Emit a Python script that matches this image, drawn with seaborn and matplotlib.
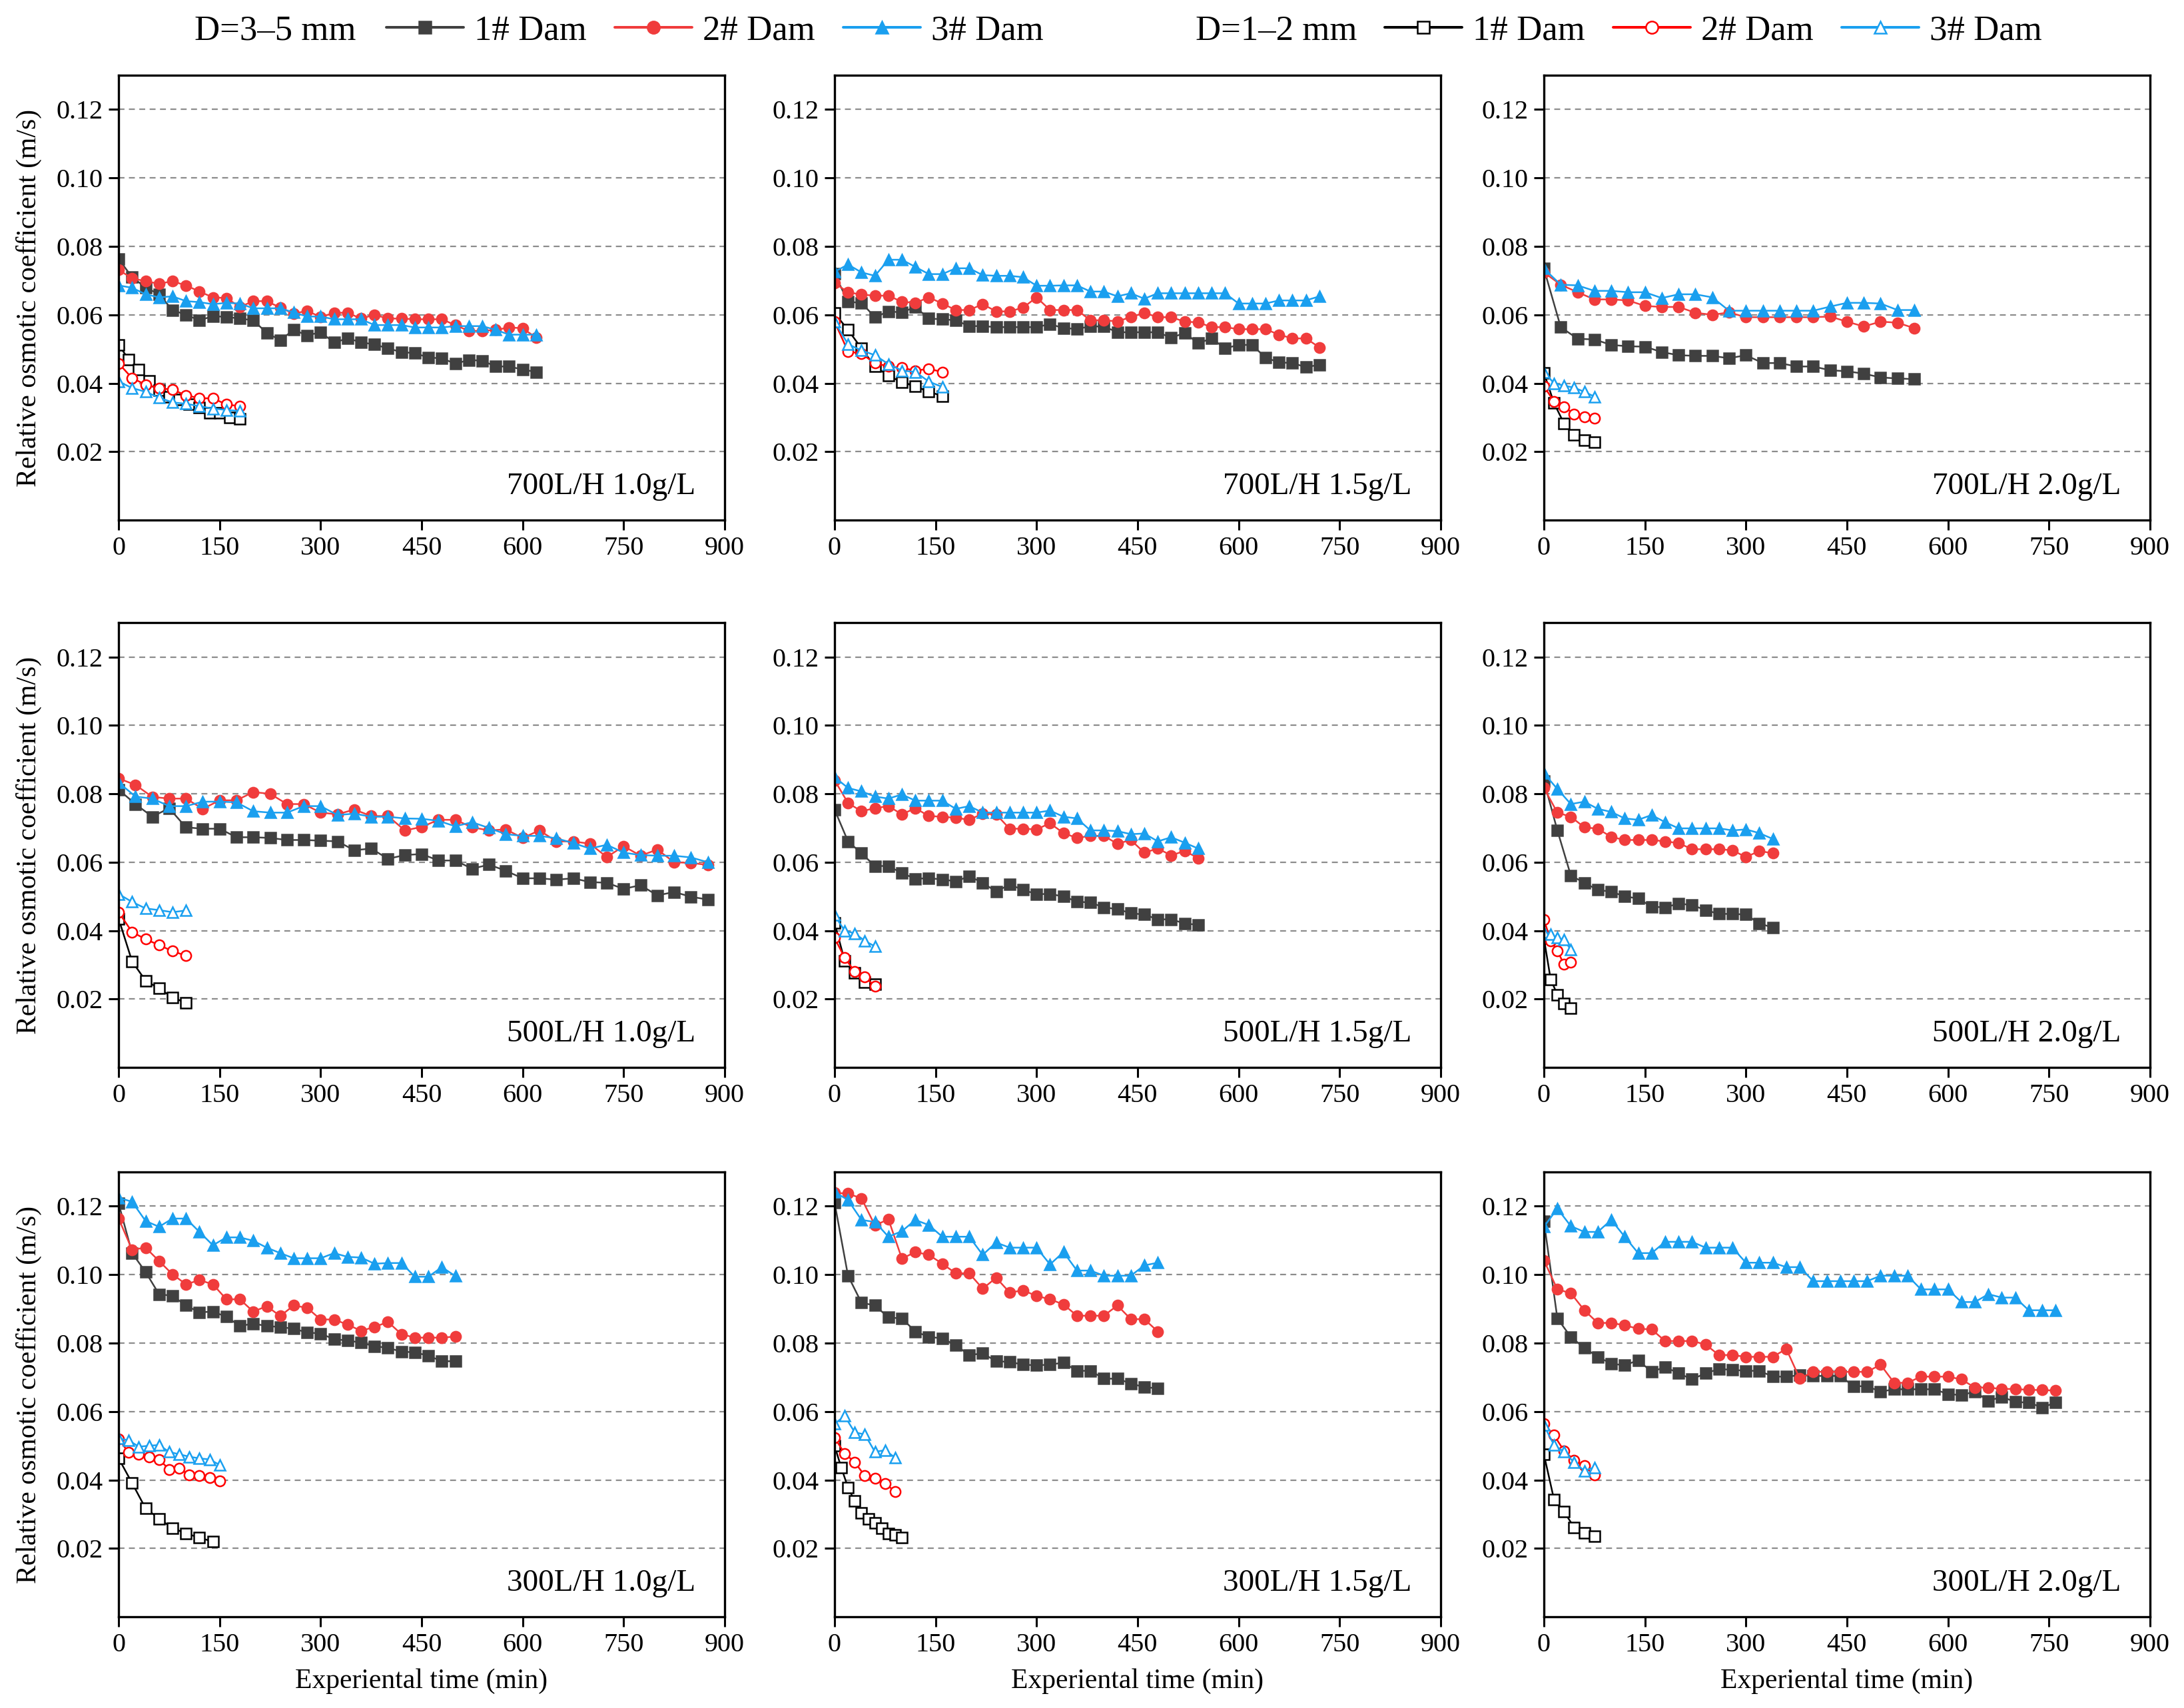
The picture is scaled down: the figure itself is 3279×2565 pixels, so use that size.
import matplotlib
matplotlib.use("Agg")
import matplotlib.pyplot as plt
from matplotlib.lines import Line2D
from matplotlib.ticker import FormatStrFormatter
import seaborn as sns

# ---- data ----
# 700L/H 1.0g/L
tA = list(range(0, 621, 20))
A1 = [0.0763, 0.071, 0.068, 0.066, 0.0614, 0.060, 0.0584, 0.0596, 0.0594, 0.0589,
      0.0584, 0.0547, 0.0526, 0.0556, 0.054, 0.0549, 0.0519, 0.0531, 0.052, 0.0513,
      0.0502, 0.0491, 0.0488, 0.0475, 0.0473, 0.0457, 0.0468, 0.0466, 0.0449, 0.0449,
      0.044, 0.0433]
A2 = [0.0731, 0.0707, 0.0698, 0.0691, 0.0698, 0.0686, 0.0668, 0.0651, 0.0649, 0.0623,
      0.064, 0.064, 0.0621, 0.0603, 0.0612, 0.0593, 0.0606, 0.0606, 0.0589, 0.06,
      0.0589, 0.0589, 0.0587, 0.0587, 0.0587, 0.057, 0.0553, 0.0553, 0.0556, 0.0563,
      0.0561, 0.0533]
A3 = [0.0686, 0.0679, 0.066, 0.0651, 0.0654, 0.064, 0.0637, 0.0631, 0.0635, 0.0633,
      0.0619, 0.0619, 0.0619, 0.0607, 0.0595, 0.0595, 0.0587, 0.0587, 0.0587, 0.057,
      0.057, 0.057, 0.0563, 0.0563, 0.0563, 0.0567, 0.0567, 0.0567, 0.0556, 0.0542,
      0.0542, 0.0542]
tA_s1 = list(range(0, 181, 15))
A1s = [0.0512, 0.047, 0.044, 0.0407, 0.038, 0.0361, 0.0352, 0.0338, 0.0329, 0.0314, 0.0314, 0.030, 0.0296]
tA_s = list(range(0, 181, 20))
A2s = [0.0458, 0.0415, 0.0396, 0.0386, 0.0381, 0.0365, 0.0356, 0.0356, 0.0338, 0.0333]
A3s = [0.0405, 0.0386, 0.0375, 0.0358, 0.0344, 0.034, 0.0333, 0.0326, 0.0322, 0.0319]

# 700L/H 1.5g/L
tB = list(range(0, 721, 20))
B1 = [0.072, 0.0638, 0.0635, 0.0593, 0.061, 0.0607, 0.0623, 0.0589, 0.0587, 0.0584,
      0.0567, 0.0567, 0.0564, 0.0564, 0.0564, 0.0564, 0.0573, 0.0561, 0.0559, 0.0566,
      0.0566, 0.0549, 0.0549, 0.0549, 0.0549, 0.0533, 0.0547, 0.0517, 0.0531, 0.0502,
      0.0512, 0.0512, 0.0475, 0.0461, 0.0459, 0.0447, 0.0454]
B2 = [0.0693, 0.0666, 0.0659, 0.0656, 0.0656, 0.0638, 0.0635, 0.0651, 0.0633, 0.0614,
      0.0614, 0.0631, 0.061, 0.061, 0.0621, 0.0651, 0.0614, 0.0614, 0.0614, 0.0584,
      0.0584, 0.0581, 0.0593, 0.0606, 0.0593, 0.0593, 0.058, 0.0578, 0.0564, 0.0564,
      0.0558, 0.0558, 0.0558, 0.0542, 0.0531, 0.0531, 0.0505]
B3 = [0.0726, 0.0747, 0.0724, 0.0714, 0.0761, 0.0761, 0.074, 0.0719, 0.0719, 0.0736,
      0.0736, 0.0716, 0.0714, 0.0714, 0.071, 0.0685, 0.0685, 0.0686, 0.0686, 0.0668,
      0.0668, 0.0654, 0.0663, 0.0647, 0.0663, 0.0663, 0.0663, 0.0663, 0.0663, 0.0663,
      0.0633, 0.0633, 0.0633, 0.0642, 0.0642, 0.0642, 0.0654]
tB_s = list(range(0, 161, 20))
B1s = [0.0605, 0.0556, 0.0502, 0.0449, 0.0422, 0.0403, 0.0391, 0.0375, 0.0363]
B2s = [0.058, 0.0493, 0.0486, 0.0459, 0.0449, 0.0445, 0.0437, 0.0442, 0.0433]
B3s = [0.058, 0.0514, 0.0496, 0.0482, 0.0456, 0.0437, 0.0433, 0.0405, 0.0389]

# 700L/H 2.0g/L
tC = list(range(0, 551, 25))
C1 = [0.0735, 0.0564, 0.053, 0.0528, 0.0512, 0.0508, 0.0507, 0.0491, 0.0482, 0.048,
      0.048, 0.0473, 0.0482, 0.0459, 0.0459, 0.0449, 0.0449, 0.0438, 0.0435, 0.0428,
      0.0417, 0.0414, 0.0412]
C2 = [0.0724, 0.0688, 0.0666, 0.0645, 0.0645, 0.0642, 0.0626, 0.0623, 0.0623, 0.0606,
      0.06, 0.0607, 0.0593, 0.0593, 0.0593, 0.0593, 0.0593, 0.0595, 0.058, 0.0566,
      0.058, 0.0577, 0.0561]
C3 = [0.0735, 0.0688, 0.0686, 0.067, 0.067, 0.0666, 0.0666, 0.0649, 0.066, 0.066,
      0.0651, 0.0612, 0.0612, 0.0612, 0.0612, 0.0612, 0.0612, 0.0624, 0.0635, 0.0635,
      0.0633, 0.0614, 0.0614]
tC_s = list(range(0, 76, 15))
C1s = [0.0431, 0.0342, 0.0282, 0.0249, 0.0233, 0.0228]
C2s = [0.0391, 0.0347, 0.0331, 0.031, 0.0302, 0.0298]
C3s = [0.0433, 0.04, 0.0393, 0.0387, 0.0375, 0.0361]

# 500L/H 1.0g/L
tD = list(range(0, 876, 25))
D1 = [0.0812, 0.077, 0.0733, 0.0758, 0.0702, 0.0698, 0.0698, 0.0673, 0.0673, 0.0671,
      0.0665, 0.0665, 0.0663, 0.0661, 0.0635, 0.064, 0.061, 0.0621, 0.0624, 0.0605,
      0.0605, 0.0581, 0.0593, 0.0575, 0.0553, 0.0553, 0.0549, 0.0553, 0.0542, 0.054,
      0.0522, 0.0533, 0.0503, 0.0513, 0.0499, 0.0491]
D2 = [0.0845, 0.0826, 0.0791, 0.0786, 0.0786, 0.0756, 0.0781, 0.0781, 0.0805, 0.08,
      0.077, 0.077, 0.0745, 0.074, 0.0754, 0.0735, 0.0735, 0.0693, 0.0703, 0.0724,
      0.0724, 0.0702, 0.0693, 0.0696, 0.0671, 0.0693, 0.0661, 0.0661, 0.0654, 0.0615,
      0.0647, 0.0619, 0.0637, 0.06, 0.0598, 0.0592]
D3 = [0.0833, 0.0792, 0.0786, 0.0764, 0.0764, 0.0777, 0.0777, 0.0775, 0.0749, 0.0745,
      0.0745, 0.0764, 0.0764, 0.0738, 0.0742, 0.0733, 0.0733, 0.0728, 0.0727, 0.0721,
      0.0705, 0.0717, 0.07, 0.0682, 0.0677, 0.0677, 0.067, 0.0656, 0.064, 0.0651,
      0.0628, 0.0621, 0.0619, 0.0619, 0.0614, 0.06]
tD_s = list(range(0, 101, 20))
D1s = [0.0435, 0.031, 0.0254, 0.0231, 0.0205, 0.0189]
D2s = [0.0454, 0.0396, 0.0375, 0.0358, 0.034, 0.0327]
D3s = [0.0507, 0.0484, 0.0465, 0.046, 0.0454, 0.0459]

# 500L/H 1.5g/L
tE = list(range(0, 541, 20))
E1 = [0.0754, 0.0661, 0.0626, 0.0589, 0.0589, 0.0568, 0.0552, 0.0553, 0.055, 0.0544,
      0.0559, 0.054, 0.0514, 0.0535, 0.0519, 0.0507, 0.0507, 0.05, 0.0485, 0.0482,
      0.0468, 0.0463, 0.0451, 0.0447, 0.0433, 0.0433, 0.0421, 0.0417]
E2 = [0.084, 0.0773, 0.0749, 0.0758, 0.0764, 0.074, 0.0758, 0.0735, 0.0733, 0.073,
      0.0724, 0.0742, 0.074, 0.0698, 0.0698, 0.0696, 0.0714, 0.0685, 0.0671, 0.0677,
      0.0677, 0.0654, 0.0665, 0.0628, 0.064, 0.062, 0.0633, 0.0612]
E3 = [0.0849, 0.0817, 0.0807, 0.0792, 0.0786, 0.0798, 0.078, 0.078, 0.078, 0.0756,
      0.0764, 0.0745, 0.0745, 0.0745, 0.0745, 0.0745, 0.0751, 0.0733, 0.0728, 0.0693,
      0.0693, 0.0691, 0.0682, 0.0684, 0.0661, 0.0673, 0.0657, 0.064]
tE_s = list(range(0, 61, 15))
E1s = [0.0423, 0.0312, 0.0277, 0.0249, 0.0243]
E2s = [0.0379, 0.0321, 0.028, 0.0265, 0.0237]
E3s = [0.0445, 0.04, 0.0392, 0.037, 0.0354]

# 500L/H 2.0g/L
tF = list(range(0, 341, 20))
F1 = [0.0838, 0.0693, 0.0561, 0.054, 0.0519, 0.0514, 0.05, 0.0494, 0.047, 0.0468,
      0.0479, 0.0475, 0.046, 0.0449, 0.0449, 0.0447, 0.0421, 0.0409]
F2 = [0.0817, 0.0745, 0.0733, 0.0702, 0.0698, 0.0674, 0.0665, 0.0665, 0.0665, 0.0661,
      0.0656, 0.0638, 0.0638, 0.0638, 0.0635, 0.0615, 0.0633, 0.0626]
F3 = [0.086, 0.0814, 0.077, 0.0777, 0.0756, 0.0747, 0.0728, 0.0724, 0.0738, 0.0717,
      0.0699, 0.0699, 0.0699, 0.0699, 0.0693, 0.0696, 0.0685, 0.0668]
tF_s = list(range(0, 41, 10))
F1s = [0.0378, 0.0258, 0.0213, 0.0188, 0.0174]
F2s = [0.0433, 0.0371, 0.0341, 0.0301, 0.0308]
F3s = [0.0396, 0.0389, 0.0379, 0.0373, 0.0344]

# 300L/H 1.0g/L
tG = list(range(0, 501, 20))
G1 = [0.1208, 0.1063, 0.1008, 0.0943, 0.0938, 0.091, 0.089, 0.0892, 0.0877, 0.085,
      0.0857, 0.085, 0.0847, 0.0842, 0.0831, 0.0828, 0.0811, 0.0808, 0.0801, 0.0791,
      0.0786, 0.0775, 0.0773, 0.0763, 0.0747, 0.0747]
G2 = [0.1164, 0.1073, 0.1079, 0.104, 0.1001, 0.0972, 0.0984, 0.0972, 0.0928, 0.0928,
      0.0892, 0.0908, 0.0879, 0.091, 0.0903, 0.0869, 0.0869, 0.0854, 0.0836, 0.0847,
      0.0862, 0.0826, 0.0816, 0.0816, 0.0816, 0.0819]
G3 = [0.1225, 0.1213, 0.1157, 0.114, 0.1164, 0.1164, 0.1125, 0.1086, 0.1109, 0.1109,
      0.1099, 0.1079, 0.1063, 0.1048, 0.1048, 0.1048, 0.1063, 0.1052, 0.105, 0.1032,
      0.1034, 0.1034, 0.0994, 0.0994, 0.1022, 0.0996]
tG_s1 = list(range(0, 141, 20))
G1s = [0.0463, 0.0391, 0.0317, 0.0287, 0.0259, 0.0244, 0.0231, 0.022]
tG_s = list(range(0, 151, 15))
G2s = [0.0519, 0.048, 0.0475, 0.0468, 0.046, 0.0431, 0.0434, 0.0414, 0.0412, 0.0407, 0.0397]
G3s = [0.0521, 0.0516, 0.0497, 0.05, 0.0502, 0.0482, 0.0475, 0.0468, 0.0463, 0.046, 0.0444]

# 300L/H 1.5g/L
tH = list(range(0, 481, 20))
H1 = [0.1211, 0.0997, 0.0918, 0.091, 0.0875, 0.0872, 0.0834, 0.0818, 0.0814, 0.0794,
      0.0765, 0.077, 0.0747, 0.0745, 0.0737, 0.0735, 0.0737, 0.0743, 0.0719, 0.0719,
      0.0696, 0.0696, 0.0682, 0.0671, 0.0668]
H2 = [0.1239, 0.1237, 0.1223, 0.1144, 0.1162, 0.1047, 0.1066, 0.1058, 0.1032, 0.1004,
      0.1004, 0.0959, 0.0991, 0.0948, 0.0954, 0.0938, 0.0928, 0.0913, 0.088, 0.088,
      0.088, 0.091, 0.087, 0.087, 0.0834]
H3 = [0.1242, 0.1218, 0.116, 0.1154, 0.1111, 0.1127, 0.116, 0.1145, 0.1111, 0.1111,
      0.1111, 0.1058, 0.1094, 0.1079, 0.1079, 0.1079, 0.103, 0.1066, 0.1012, 0.1012,
      0.0997, 0.0997, 0.0997, 0.1027, 0.1035]
tH_s1 = list(range(0, 101, 10))
H1s = [0.05, 0.0436, 0.0378, 0.0338, 0.0304, 0.0287, 0.0274, 0.0259, 0.0244, 0.0239, 0.0231]
tH_s = list(range(0, 91, 15))
H2s = [0.0524, 0.0477, 0.0452, 0.0412, 0.0404, 0.039, 0.0366]
H3s = [0.0564, 0.0587, 0.0539, 0.0533, 0.0482, 0.0487, 0.0465]

# 300L/H 2.0g/L
tI = list(range(0, 761, 20))
I1 = [0.1157, 0.0872, 0.0818, 0.0786, 0.076, 0.074, 0.0735, 0.075, 0.0716, 0.073,
      0.0712, 0.0694, 0.0712, 0.0724, 0.0722, 0.0719, 0.0719, 0.0702, 0.0702, 0.0706,
      0.0704, 0.0704, 0.0704, 0.0674, 0.0674, 0.0658, 0.0665, 0.0665, 0.0665, 0.0665,
      0.0651, 0.0648, 0.0658, 0.0631, 0.0643, 0.0628, 0.0626, 0.0612, 0.0626]
I2 = [0.1042, 0.0957, 0.0946, 0.0896, 0.0859, 0.0859, 0.0852, 0.0842, 0.084, 0.0806,
      0.0806, 0.0806, 0.0796, 0.0765, 0.0765, 0.076, 0.076, 0.076, 0.0783, 0.0696,
      0.0716, 0.0716, 0.0716, 0.0716, 0.0716, 0.0737, 0.0684, 0.0684, 0.0702, 0.0702,
      0.0702, 0.0694, 0.067, 0.067, 0.0666, 0.0666, 0.0663, 0.0663, 0.0661]
I3 = [0.114, 0.1193, 0.1142, 0.1125, 0.1125, 0.116, 0.1111, 0.1063, 0.1063, 0.1096,
      0.1096, 0.1096, 0.1079, 0.1079, 0.1079, 0.1035, 0.1035, 0.1035, 0.1022, 0.1022,
      0.0981, 0.0981, 0.0981, 0.0981, 0.0981, 0.0997, 0.0997, 0.0997, 0.0957, 0.0957,
      0.0957, 0.092, 0.092, 0.0943, 0.0933, 0.0933, 0.0896, 0.0896, 0.0896]
tI_s = list(range(0, 76, 15))
I1s = [0.0475, 0.0343, 0.0307, 0.0261, 0.0246, 0.0236]
I2s = [0.0564, 0.0531, 0.0485, 0.0458, 0.0441, 0.0414]
I3s = [0.056, 0.0502, 0.0482, 0.0451, 0.0427, 0.0437]

panel_titles = ["700L/H 1.0g/L", "700L/H 1.5g/L", "700L/H 2.0g/L",
                "500L/H 1.0g/L", "500L/H 1.5g/L", "500L/H 2.0g/L",
                "300L/H 1.0g/L", "300L/H 1.5g/L", "300L/H 2.0g/L"]
dam_labels = ["1# Dam", "2# Dam", "3# Dam"]

# series per panel: (time, values) for big 1#,2#,3# then small 1#,2#,3#
panels = [
    [(tA, A1), (tA, A2), (tA, A3), (tA_s1, A1s), (tA_s, A2s), (tA_s, A3s)],
    [(tB, B1), (tB, B2), (tB, B3), (tB_s, B1s), (tB_s, B2s), (tB_s, B3s)],
    [(tC, C1), (tC, C2), (tC, C3), (tC_s, C1s), (tC_s, C2s), (tC_s, C3s)],
    [(tD, D1), (tD, D2), (tD, D3), (tD_s, D1s), (tD_s, D2s), (tD_s, D3s)],
    [(tE, E1), (tE, E2), (tE, E3), (tE_s, E1s), (tE_s, E2s), (tE_s, E3s)],
    [(tF, F1), (tF, F2), (tF, F3), (tF_s, F1s), (tF_s, F2s), (tF_s, F3s)],
    [(tG, G1), (tG, G2), (tG, G3), (tG_s1, G1s), (tG_s, G2s), (tG_s, G3s)],
    [(tH, H1), (tH, H2), (tH, H3), (tH_s1, H1s), (tH_s, H2s), (tH_s, H3s)],
    [(tI, I1), (tI, I2), (tI, I3), (tI_s, I1s), (tI_s, I2s), (tI_s, I3s)],
]

# ---- styles ----
styles = [
    dict(color="#404040", marker="s", markerfacecolor="#404040", markeredgecolor="#404040"),
    dict(color="#F03C3C", marker="o", markerfacecolor="#F03C3C", markeredgecolor="#F03C3C"),
    dict(color="#1A9FEF", marker="^", markerfacecolor="#1A9FEF", markeredgecolor="#1A9FEF"),
    dict(color="#000000", marker="s", markerfacecolor="white", markeredgecolor="#000000"),
    dict(color="#FF0000", marker="o", markerfacecolor="white", markeredgecolor="#FF0000"),
    dict(color="#1AA0F0", marker="^", markerfacecolor="white", markeredgecolor="#1AA0F0"),
]
LW, MS, MEW = 0.9, 5.5, 0.9
SERIF = ['Liberation Serif', 'DejaVu Serif']

sns.set_theme(style="ticks", rc={"axes.edgecolor": "black", "xtick.color": "black",
                                 "ytick.color": "black", "text.color": "black",
                                 "axes.labelcolor": "black"})
plt.rcParams['font.family'] = SERIF

fig = plt.figure(figsize=(16.4, 12.825), dpi=200)
lefts = [0.0543, 0.382, 0.7067]
bottoms = [0.6955, 0.375, 0.0534]
W, H = 0.2774, 0.2604

for i, series in enumerate(panels):
    r, c = divmod(i, 3)
    ax = fig.add_axes([lefts[c], bottoms[r], W, H])
    for (t, v), st in zip(series, styles):
        sns.lineplot(x=t, y=v, ax=ax, estimator=None, sort=False, legend=False,
                     linewidth=LW, markersize=MS, markeredgewidth=MEW, **st)
    ax.set_xlim(0, 900)
    ax.set_ylim(0, 0.13)
    ax.set_xticks(range(0, 901, 150))
    ax.set_yticks([0.02, 0.04, 0.06, 0.08, 0.10, 0.12])
    ax.yaxis.set_major_formatter(FormatStrFormatter('%.2f'))
    ax.grid(True, axis='y', linestyle=(0, (4, 3)), color='#8c8c8c', linewidth=0.8)
    ax.tick_params(direction='out', length=5.5, width=1.1, labelsize=14.5, pad=3)
    for lab in ax.get_xticklabels() + ax.get_yticklabels():
        lab.set_family(SERIF)
    for sp in ax.spines.values():
        sp.set_linewidth(1.2)
        sp.set_color("black")
    ax.text(0.952, 0.075, panel_titles[i], transform=ax.transAxes,
            ha='right', va='center', fontsize=17, family=SERIF)
    if c == 0:
        ax.set_ylabel("Relative osmotic coefficient (m/s)", fontsize=15, family=SERIF)
        ax.yaxis.set_label_coords(-0.127, 0.5)
    else:
        ax.set_ylabel("")
    if r == 2:
        ax.set_xlabel("Experiental time (min)", fontsize=15, family=SERIF)
        ax.xaxis.set_label_coords(0.5, -0.116)
    else:
        ax.set_xlabel("")

# ---- top legend ----
handles = [Line2D([], [], linewidth=LW * 1.6, markersize=MS * 1.2, markeredgewidth=MEW, **st)
           for st in styles]
ly = 0.9817
leg_font = {'family': SERIF, 'size': 19}
fig.text(292 / 3280, ly, "D=3\u20135 mm", ha='left', va='center', fontsize=19, family=SERIF)
fig.legend(handles=handles[:3], labels=dam_labels, loc='center left',
           bbox_to_anchor=(580 / 3280, ly), ncol=3, frameon=False, prop=leg_font,
           handlelength=2.2, handletextpad=0.3, columnspacing=0.8,
           borderpad=0, borderaxespad=0)
fig.text(1795 / 3280, ly, "D=1\u20132 mm", ha='left', va='center', fontsize=19, family=SERIF)
fig.legend(handles=handles[3:], labels=dam_labels, loc='center left',
           bbox_to_anchor=(2079 / 3280, ly), ncol=3, frameon=False, prop=leg_font,
           handlelength=2.2, handletextpad=0.3, columnspacing=0.8,
           borderpad=0, borderaxespad=0)

fig.savefig("out.png", dpi=200)
plt.close(fig)
